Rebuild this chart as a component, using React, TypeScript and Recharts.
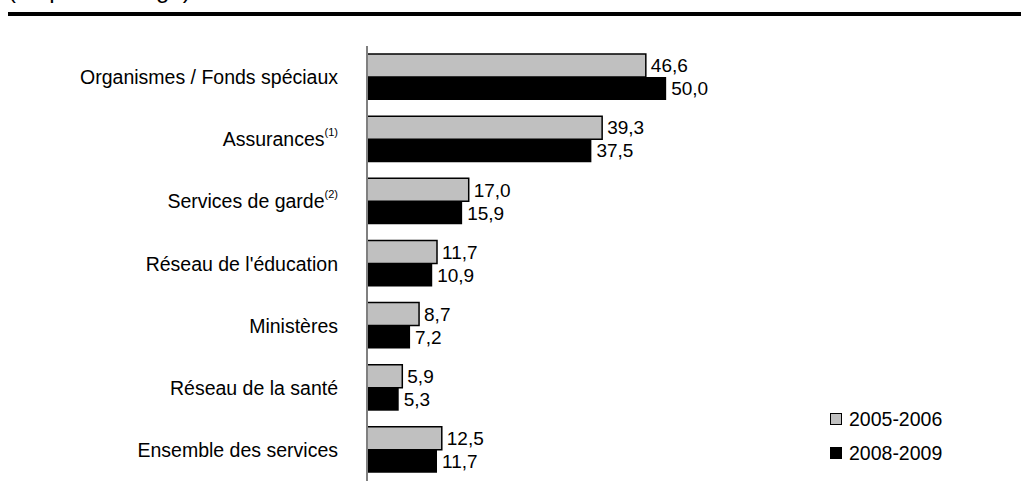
import React from "react";
import { Bar, BarChart, LabelList, Legend, XAxis, YAxis } from "recharts";

const categories = [
  "Organismes / Fonds spéciaux",
  "Assurances",
  "Services de garde",
  "Réseau de l'éducation",
  "Ministères",
  "Réseau de la santé",
  "Ensemble des services",
];
const notes = ["", "(1)", "(2)", "", "", "", ""];
const values2005 = [46.6, 39.3, 17.0, 11.7, 8.7, 5.9, 12.5];
const values2008 = [50.0, 37.5, 15.9, 10.9, 7.2, 5.3, 11.7];

const data = categories.map((name, i) => ({
  name,
  note: notes[i],
  a: values2005[i],
  b: values2008[i],
}));

const FONT = '"Liberation Sans", Arial, Helvetica, sans-serif';
const fmt = (v: unknown) => Number(v).toFixed(1).replace(".", ",");

function CategoryTick({ x, y, payload, index }: any) {
  const note = notes[index] ?? "";
  return (
    <text
      x={x}
      y={y}
      textAnchor="end"
      dominantBaseline="central"
      fontFamily={FONT}
      fontSize={19.5}
      fill="#000"
    >
      {payload.value}
      {note && (
        <tspan fontSize={11} dy={-7}>
          {note}
        </tspan>
      )}
    </text>
  );
}

function LegendBox({ payload }: any) {
  return (
    <div style={{ fontFamily: FONT, fontSize: 19.5, color: "#000" }}>
      {(payload ?? []).map((p: any) => (
        <div key={p.value} style={{ display: "flex", alignItems: "center", height: 34 }}>
          <span
            style={{
              display: "inline-block",
              width: 10,
              height: 10,
              background: p.color,
              border: "1px solid #000",
              marginRight: 7,
            }}
          />
          {p.value}
        </div>
      ))}
    </div>
  );
}

export default function App() {
  return (
    <div style={{ position: "relative", width: 1021, height: 502, background: "#fff", overflow: "hidden" }}>
      <style>{`body{margin:0}`}</style>
      <svg width={1021} height={30} style={{ position: "absolute", left: 0, top: 0 }}>
        <text x={8} y={-2} fontFamily={FONT} fontSize={24} fill="#000">
          (en pourcentage)
        </text>
        <rect x={8} y={12} width={1013} height={4} fill="#000" />
      </svg>
      <BarChart
        width={1021}
        height={502}
        data={data}
        layout="vertical"
        margin={{ top: 46, right: 295, bottom: 21, left: 0 }}
        barSize={23}
        barGap={0}
      >
        <XAxis type="number" domain={[0, 60]} hide />
        <YAxis
          type="category"
          dataKey="name"
          width={367}
          tickSize={0}
          tickMargin={29}
          tickLine={false}
          axisLine={{ stroke: "#808080", strokeWidth: 2 }}
          tick={<CategoryTick />}
          interval={0}
        />
        <Legend
          layout="vertical"
          align="center"
          verticalAlign="middle"
          content={<LegendBox />}
          wrapperStyle={{ position: "absolute", left: 830, top: 402, width: 180 }}
        />
        <Bar dataKey="a" name="2005-2006" fill="#c0c0c0" stroke="#000" strokeWidth={1.5} isAnimationActive={false}>
          <LabelList
            dataKey="a"
            position="right"
            offset={5}
            formatter={fmt}
            style={{ fontFamily: FONT, fontSize: 19, fill: "#000" }}
          />
        </Bar>
        <Bar dataKey="b" name="2008-2009" fill="#000" isAnimationActive={false}>
          <LabelList
            dataKey="b"
            position="right"
            offset={5}
            formatter={fmt}
            style={{ fontFamily: FONT, fontSize: 19, fill: "#000" }}
          />
        </Bar>
      </BarChart>
    </div>
  );
}
